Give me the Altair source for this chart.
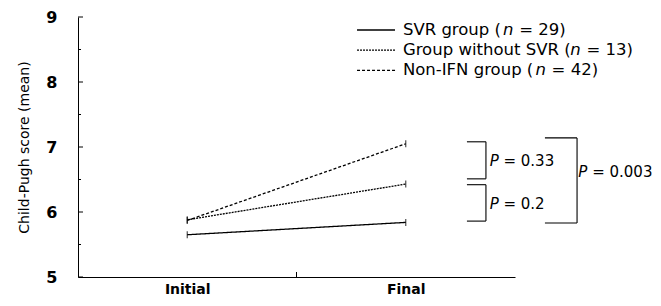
import altair as alt
import pandas as pd

# ---- data ----
groups = ["SVR group", "Group without SVR", "Non-IFN group"]
n_values = [29, 13, 42]
initial = [5.65, 5.88, 5.87]
final = [5.84, 6.43, 7.05]
timepoints = ["Initial", "Final"]
time_x = [0.5, 1.5]

# significance brackets (P values)
p_values = ["0.33", "0.2", "0.003"]
br_x_left = [1.78, 1.78, 2.137]
br_x_right = [1.867, 1.867, 2.284]
br_y_top = [7.08, 6.42, 7.14]
br_y_bot = [6.51, 5.86, 5.83]
p_x = [1.884, 1.884, 2.29]
p_y = [6.79, 6.12, 6.61]

# legend placement (in data units)
leg_line_x = [1.277, 1.451]
leg_text_x = 1.487
leg_y = [8.80, 8.49, 8.18]

y_major = [5, 6, 7, 8, 9]
y_minor = [5.5, 6.5, 7.5, 8.5]

FONT = "DejaVu Sans"
dashes = [[1, 0], [2, 1], [3, 2]]
dash_scale = alt.Scale(domain=groups, range=dashes)
xs = alt.Scale(domain=[0, 2], nice=False, zero=False)
ys = alt.Scale(domain=[5, 9], nice=False, zero=False)

label_expr = (f"datum.value == {time_x[0]} ? '{timepoints[0]}' : "
              f"datum.value == {time_x[1]} ? '{timepoints[1]}' : ''")
XAX = alt.Axis(values=time_x, labelExpr=label_expr, ticks=False, grid=False,
               labelFont=FONT, labelFontSize=14, labelFontWeight="bold",
               labelColor="black", labelPadding=5, labelFlush=False,
               domainColor="black", title=None)
YAX = alt.Axis(values=y_major, ticks=False, grid=False,
               labelFont=FONT, labelFontSize=16, labelFontWeight="bold",
               labelColor="black", labelPadding=21,
               domainColor="black", title="Child-Pugh score (mean)",
               titleFont=FONT, titleFontSize=14, titleFontWeight="normal",
               titleColor="black", titlePadding=14)


def X(f):
    return alt.X(f, scale=xs, axis=XAX)


def Y(f):
    return alt.Y(f, scale=ys, axis=YAX)


# ---- tables ----
rows = []
for g, a, b in zip(groups, initial, final):
    rows.append({"group": g, "t": time_x[0], "v": a})
    rows.append({"group": g, "t": time_x[1], "v": b})
df = pd.DataFrame(rows)

lines = alt.Chart(df).mark_line(strokeWidth=1.3, color="black").encode(
    x=X("t:Q"), y=Y("v:Q"),
    strokeDash=alt.StrokeDash("group:N", scale=dash_scale, legend=None),
    detail="group:N",
)

caps = alt.Chart(df).mark_tick(orient="vertical", size=7, thickness=1.2, color="black").encode(
    x=X("t:Q"), y=Y("v:Q"))

# inward ticks
yticks_major = alt.Chart(pd.DataFrame({"y": y_major})).mark_rule(color="black", strokeWidth=1).encode(
    y=Y("y:Q"), x=alt.value(0), x2=alt.value(5))
yticks_minor = alt.Chart(pd.DataFrame({"y": y_minor})).mark_rule(color="black", strokeWidth=1).encode(
    y=Y("y:Q"), x=alt.value(0), x2=alt.value(3))
xtick_mid = alt.Chart(pd.DataFrame({"x": [1.0]})).mark_rule(color="black", strokeWidth=1).encode(
    x=X("x:Q"), y=alt.value(260), y2=alt.value(255))

# brackets
segs = []
for xl, xr, yt, yb in zip(br_x_left, br_x_right, br_y_top, br_y_bot):
    segs.append({"x": xl, "x2": xr, "y": yt, "y2": yt})
    segs.append({"x": xr, "x2": xr, "y": yt, "y2": yb})
    segs.append({"x": xl, "x2": xr, "y": yb, "y2": yb})
brackets = alt.Chart(pd.DataFrame(segs)).mark_rule(color="black", strokeWidth=1.1).encode(
    x=X("x:Q"), x2="x2:Q", y=Y("y:Q"), y2="y2:Q")

FS = 16.5
PFS = 15
def w(units, fs=FS):
    return units / 2048 * fs

SPACE = 651
p_df = pd.DataFrame({"x": p_x, "y": p_y, "txt": [f"= {p}" for p in p_values]})
p_italic = alt.Chart(p_df).mark_text(align="left", baseline="middle", font=FONT, fontSize=PFS,
                                     fontStyle="italic", color="black").encode(
    x=X("x:Q"), y=Y("y:Q"), text=alt.value("P"))
p_rest = alt.Chart(p_df).mark_text(align="left", baseline="middle", font=FONT, fontSize=PFS,
                                   color="black", dx=w(1235 + SPACE, PFS)).encode(
    x=X("x:Q"), y=Y("y:Q"), text="txt:N")

# legend
leg_lines = alt.Chart(pd.DataFrame({"group": groups, "y": leg_y,
                                    "x": [leg_line_x[0]] * 3, "x2": [leg_line_x[1]] * 3})
                      ).mark_rule(color="black", strokeWidth=1.3).encode(
    x=X("x:Q"), x2="x2:Q", y=Y("y:Q"),
    strokeDash=alt.StrokeDash("group:N", scale=dash_scale, legend=None))

# advance widths (DejaVu Sans units) of the text before the italic n
prefix_units = [12495, 20845, 16507]
n_units = 1298
leg_layers = []
for g, nv, yv, pu in zip(groups, n_values, leg_y, prefix_units):
    d = pd.DataFrame({"x": [leg_text_x], "y": [yv], "a": [f"{g} ("], "b": ["n"], "c": [f"= {nv})"]})
    base = alt.Chart(d)
    enc = dict(x=X("x:Q"), y=Y("y:Q"))
    leg_layers.append(base.mark_text(align="left", baseline="middle", font=FONT, fontSize=FS,
                                     color="black").encode(text="a:N", **enc))
    leg_layers.append(base.mark_text(align="left", baseline="middle", font=FONT, fontSize=FS,
                                     fontStyle="italic", color="black", dx=w(pu) - 0.5).encode(text="b:N", **enc))
    leg_layers.append(base.mark_text(align="left", baseline="middle", font=FONT, fontSize=FS,
                                     color="black", dx=w(pu + n_units + SPACE)).encode(text="c:N", **enc))

chart = alt.layer(
    lines, caps, yticks_major, yticks_minor, xtick_mid, brackets, p_italic, p_rest, leg_lines,
    *leg_layers
).properties(
    width=437, height=260,
    autosize=alt.AutoSizeParams(type="none"),
    padding={"left": 70, "top": 9, "right": 138, "bottom": 21},
    background="white",
).configure_view(stroke=None)

chart.save("out.html", embed_options={"renderer": "svg", "actions": False})
